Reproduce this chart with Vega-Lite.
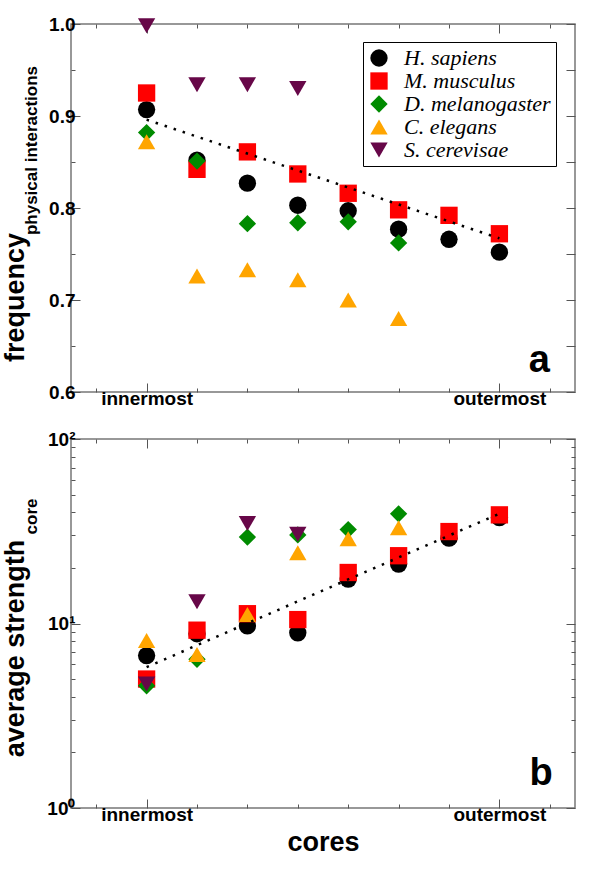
{
  "$schema": "https://vega.github.io/schema/vega-lite/v6.json",
  "padding": {"top": 14, "left": 0, "right": 0, "bottom": 0},
  "spacing": 20,
  "config": {
    "view": {"stroke": "#777", "strokeWidth": 1.5},
    "font": "Liberation Sans",
    "axis": {"domain": false, "grid": false, "tickColor": "#555", "tickWidth": 1, "labelFont": "Liberation Sans", "labelFontWeight": "bold", "labelFontSize": 19, "labelColor": "black", "titleFont": "Liberation Sans", "titleFontWeight": "bold", "titleColor": "black"}
  },
  "datasets": {
    "pts_a": [
      {"species": "H. sapiens", "core": 1, "value": 0.907},
      {"species": "H. sapiens", "core": 2, "value": 0.852},
      {"species": "H. sapiens", "core": 3, "value": 0.827},
      {"species": "H. sapiens", "core": 4, "value": 0.803},
      {"species": "H. sapiens", "core": 5, "value": 0.797},
      {"species": "H. sapiens", "core": 6, "value": 0.777},
      {"species": "H. sapiens", "core": 7, "value": 0.766},
      {"species": "H. sapiens", "core": 8, "value": 0.752},
      {"species": "M. musculus", "core": 1, "value": 0.925},
      {"species": "M. musculus", "core": 2, "value": 0.842},
      {"species": "M. musculus", "core": 3, "value": 0.861},
      {"species": "M. musculus", "core": 4, "value": 0.837},
      {"species": "M. musculus", "core": 5, "value": 0.816},
      {"species": "M. musculus", "core": 6, "value": 0.798},
      {"species": "M. musculus", "core": 7, "value": 0.792},
      {"species": "M. musculus", "core": 8, "value": 0.772},
      {"species": "D. melanogaster", "core": 1, "value": 0.882},
      {"species": "D. melanogaster", "core": 2, "value": 0.851},
      {"species": "D. melanogaster", "core": 3, "value": 0.783},
      {"species": "D. melanogaster", "core": 4, "value": 0.784},
      {"species": "D. melanogaster", "core": 5, "value": 0.785},
      {"species": "D. melanogaster", "core": 6, "value": 0.762},
      {"species": "C. elegans", "core": 1, "value": 0.872},
      {"species": "C. elegans", "core": 2, "value": 0.726},
      {"species": "C. elegans", "core": 3, "value": 0.733},
      {"species": "C. elegans", "core": 4, "value": 0.722},
      {"species": "C. elegans", "core": 5, "value": 0.700},
      {"species": "C. elegans", "core": 6, "value": 0.680},
      {"species": "S. cerevisae", "core": 1, "value": 0.998},
      {"species": "S. cerevisae", "core": 2, "value": 0.934},
      {"species": "S. cerevisae", "core": 3, "value": 0.934},
      {"species": "S. cerevisae", "core": 4, "value": 0.930}
    ],
    "fit_a": [
      {"core": 1, "value": 0.896},
      {"core": 8, "value": 0.767}
    ],
    "tag_a": [{"core": 8.79, "value": 0.622, "label": "a"}],
    "pts_b": [
      {"species": "H. sapiens", "core": 1, "value": 6.7},
      {"species": "H. sapiens", "core": 2, "value": 8.8},
      {"species": "H. sapiens", "core": 3, "value": 9.7},
      {"species": "H. sapiens", "core": 4, "value": 8.9},
      {"species": "H. sapiens", "core": 5, "value": 17.4},
      {"species": "H. sapiens", "core": 6, "value": 21.0},
      {"species": "H. sapiens", "core": 7, "value": 29.0},
      {"species": "H. sapiens", "core": 8, "value": 37.5},
      {"species": "M. musculus", "core": 1, "value": 5.0},
      {"species": "M. musculus", "core": 2, "value": 9.2},
      {"species": "M. musculus", "core": 3, "value": 11.3},
      {"species": "M. musculus", "core": 4, "value": 10.5},
      {"species": "M. musculus", "core": 5, "value": 18.9},
      {"species": "M. musculus", "core": 6, "value": 23.3},
      {"species": "M. musculus", "core": 7, "value": 31.5},
      {"species": "M. musculus", "core": 8, "value": 38.8},
      {"species": "D. melanogaster", "core": 1, "value": 4.6},
      {"species": "D. melanogaster", "core": 2, "value": 6.4},
      {"species": "D. melanogaster", "core": 3, "value": 29.4},
      {"species": "D. melanogaster", "core": 4, "value": 30.2},
      {"species": "D. melanogaster", "core": 5, "value": 32.3},
      {"species": "D. melanogaster", "core": 6, "value": 39.3},
      {"species": "C. elegans", "core": 1, "value": 8.1},
      {"species": "C. elegans", "core": 2, "value": 6.8},
      {"species": "C. elegans", "core": 3, "value": 11.2},
      {"species": "C. elegans", "core": 4, "value": 24.2},
      {"species": "C. elegans", "core": 5, "value": 28.8},
      {"species": "C. elegans", "core": 6, "value": 33.0},
      {"species": "S. cerevisae", "core": 1, "value": 4.7},
      {"species": "S. cerevisae", "core": 2, "value": 13.1},
      {"species": "S. cerevisae", "core": 3, "value": 34.8},
      {"species": "S. cerevisae", "core": 4, "value": 30.5}
    ],
    "fit_b": [
      {"core": 1, "value": 5.8},
      {"core": 8, "value": 39.4}
    ],
    "tag_b": [{"core": 8.83, "value": 1.33, "label": "b"}]
  },
  "resolve": {"legend": {"color": "independent", "shape": "independent"}},
  "vconcat": [
    {
      "width": 504,
      "height": 368,
      "resolve": {"axis": {"x": "independent", "y": "independent"}},
      "layer": [
        {
          "data": {"name": "pts_a"},
          "mark": {"type": "point", "filled": true, "opacity": 1, "size": 300, "clip": false},
          "encoding": {
            "x": {"field": "core", "type": "quantitative",
              "scale": {"domain": [-0.5, 9.5], "nice": false, "zero": false},
              "axis": {"orient": "bottom", "values": [0, 1, 2, 3, 4, 5, 6, 7, 8, 9],
                "labelExpr": "datum.value == 1 ? 'innermost' : datum.value == 8 ? 'outermost' : ''",
                "tickSize": {"condition": {"test": "datum.value == 1 || datum.value == 8", "value": -9}, "value": -4},
                "labelPadding": 6, "title": null}},
            "y": {"field": "value", "type": "quantitative",
              "scale": {"domain": [0.6, 1.0], "nice": false, "zero": false},
              "axis": {"orient": "left", "values": [0.6, 0.65, 0.7, 0.75, 0.8, 0.85, 0.9, 0.95, 1.0],
                "labelExpr": "abs(datum.value * 10 - round(datum.value * 10)) < 0.001 ? format(datum.value, '.1f') : ''",
                "tickSize": {"condition": {"test": "abs(datum.value * 10 - round(datum.value * 10)) < 0.001", "value": -9}, "value": -4},
                "labelPadding": 5,
                "title": "frequency", "titleFontSize": 27, "titleAngle": 270, "titleX": -48, "titleY": 273,
                "titleAlign": "center", "titleBaseline": "alphabetic"}},
            "color": {"field": "species", "type": "nominal",
              "scale": {"domain": ["H. sapiens", "M. musculus", "D. melanogaster", "C. elegans", "S. cerevisae"],
                "range": ["#000000", "#ff0000", "#008b00", "#ffa500", "#670748"]},
              "legend": {"orient": "none", "legendX": 292, "legendY": 18, "title": null,
                "labelFont": "Liberation Serif", "labelFontStyle": "italic", "labelFontWeight": "normal",
                "labelFontSize": 22, "labelColor": "black", "symbolSize": 300, "symbolStrokeWidth": 0,
                "symbolOpacity": 1, "strokeColor": "black", "fillColor": "white", "padding": 5,
                "rowPadding": 1, "labelOffset": 14, "labelLimit": 300}},
            "shape": {"field": "species", "type": "nominal",
              "scale": {"domain": ["H. sapiens", "M. musculus", "D. melanogaster", "C. elegans", "S. cerevisae"],
                "range": ["circle", "square", "diamond", "triangle-up", "triangle-down"]},
              "legend": {"orient": "none", "legendX": 292, "legendY": 18, "title": null,
                "labelFont": "Liberation Serif", "labelFontStyle": "italic", "labelFontWeight": "normal",
                "labelFontSize": 22, "labelColor": "black", "symbolSize": 300, "symbolStrokeWidth": 0,
                "symbolOpacity": 1, "strokeColor": "black", "fillColor": "white", "padding": 5,
                "rowPadding": 1, "labelOffset": 14, "labelLimit": 300}}
          }
        },
        {
          "data": {"name": "fit_a"},
          "mark": {"type": "line", "color": "black", "strokeDash": [2.5, 7], "strokeWidth": 2.5, "strokeCap": "butt"},
          "encoding": {
            "x": {"field": "core", "type": "quantitative",
              "scale": {"domain": [-0.5, 9.5], "nice": false, "zero": false},
              "axis": {"orient": "top", "values": [0, 1, 2, 3, 4, 5, 6, 7, 8, 9], "labels": false,
                "tickSize": {"condition": {"test": "datum.value == 1 || datum.value == 8", "value": -9}, "value": -4},
                "title": null}},
            "y": {"field": "value", "type": "quantitative",
              "scale": {"domain": [0.6, 1.0], "nice": false, "zero": false},
              "axis": {"orient": "right", "values": [0.6, 0.65, 0.7, 0.75, 0.8, 0.85, 0.9, 0.95, 1.0], "labels": false,
                "tickSize": -9,
                "title": "physical interactions", "titleFontSize": 17, "titleAngle": 270, "titleX": -539, "titleY": 126,
                "titleAlign": "center", "titleBaseline": "alphabetic"}}
          }
        },
        {
          "data": {"name": "tag_a"},
          "mark": {"type": "text", "fontSize": 38, "fontWeight": "bold", "font": "Liberation Sans", "align": "center", "baseline": "alphabetic", "color": "black"},
          "encoding": {
            "x": {"field": "core", "type": "quantitative", "scale": {"domain": [-0.5, 9.5], "nice": false, "zero": false}, "axis": null},
            "y": {"field": "value", "type": "quantitative", "scale": {"domain": [0.6, 1.0], "nice": false, "zero": false}, "axis": null},
            "text": {"field": "label"}
          }
        }
      ]
    },
    {
      "width": 504,
      "height": 369,
      "resolve": {"axis": {"x": "independent", "y": "independent"}},
      "layer": [
        {
          "data": {"name": "pts_b"},
          "mark": {"type": "point", "filled": true, "opacity": 1, "size": 300, "clip": false},
          "encoding": {
            "x": {"field": "core", "type": "quantitative",
              "scale": {"domain": [-0.5, 9.5], "nice": false, "zero": false},
              "axis": {"orient": "bottom", "values": [0, 1, 2, 3, 4, 5, 6, 7, 8, 9],
                "labelExpr": "datum.value == 1 ? 'innermost' : datum.value == 8 ? 'outermost' : ''",
                "tickSize": {"condition": {"test": "datum.value == 1 || datum.value == 8", "value": -9}, "value": -4},
                "labelPadding": 6, "title": "cores", "titleFontSize": 27, "titlePadding": 5}},
            "y": {"field": "value", "type": "quantitative",
              "scale": {"type": "log", "domain": [1, 100], "nice": false},
              "axis": {"orient": "left", "values": [1, 2, 3, 4, 5, 6, 7, 8, 9, 10, 20, 30, 40, 50, 60, 70, 80, 90, 100],
                "labelExpr": "datum.value == 1 ? '10⁰' : datum.value == 10 ? '10¹' : datum.value == 100 ? '10²' : ''",
                "tickSize": {"condition": {"test": "datum.value == 1 || datum.value == 10 || datum.value == 100", "value": -9}, "value": -4},
                "labelPadding": 5,
                "title": "average strength", "titleFontSize": 27, "titleAngle": 270, "titleX": -48, "titleY": 209,
                "titleAlign": "center", "titleBaseline": "alphabetic"}},
            "color": {"field": "species", "type": "nominal",
              "scale": {"domain": ["H. sapiens", "M. musculus", "D. melanogaster", "C. elegans", "S. cerevisae"],
                "range": ["#000000", "#ff0000", "#008b00", "#ffa500", "#670748"]},
              "legend": null},
            "shape": {"field": "species", "type": "nominal",
              "scale": {"domain": ["H. sapiens", "M. musculus", "D. melanogaster", "C. elegans", "S. cerevisae"],
                "range": ["circle", "square", "diamond", "triangle-up", "triangle-down"]},
              "legend": null}
          }
        },
        {
          "data": {"name": "fit_b"},
          "mark": {"type": "line", "color": "black", "strokeDash": [2.5, 7], "strokeWidth": 2.5, "strokeCap": "butt"},
          "encoding": {
            "x": {"field": "core", "type": "quantitative",
              "scale": {"domain": [-0.5, 9.5], "nice": false, "zero": false},
              "axis": {"orient": "top", "values": [0, 1, 2, 3, 4, 5, 6, 7, 8, 9], "labels": false,
                "tickSize": {"condition": {"test": "datum.value == 1 || datum.value == 8", "value": -9}, "value": -4},
                "title": null}},
            "y": {"field": "value", "type": "quantitative",
              "scale": {"type": "log", "domain": [1, 100], "nice": false},
              "axis": {"orient": "right", "values": [1, 2, 3, 4, 5, 6, 7, 8, 9, 10, 20, 30, 40, 50, 60, 70, 80, 90, 100], "labels": false,
                "tickSize": {"condition": {"test": "datum.value == 1 || datum.value == 10 || datum.value == 100", "value": -9}, "value": -4},
                "title": "core", "titleFontSize": 17, "titleAngle": 270, "titleX": -539, "titleY": 77,
                "titleAlign": "center", "titleBaseline": "alphabetic"}}
          }
        },
        {
          "data": {"name": "tag_b"},
          "mark": {"type": "text", "fontSize": 38, "fontWeight": "bold", "font": "Liberation Sans", "align": "center", "baseline": "alphabetic", "color": "black"},
          "encoding": {
            "x": {"field": "core", "type": "quantitative", "scale": {"domain": [-0.5, 9.5], "nice": false, "zero": false}, "axis": null},
            "y": {"field": "value", "type": "quantitative", "scale": {"type": "log", "domain": [1, 100], "nice": false}, "axis": null},
            "text": {"field": "label"}
          }
        }
      ]
    }
  ]
}
